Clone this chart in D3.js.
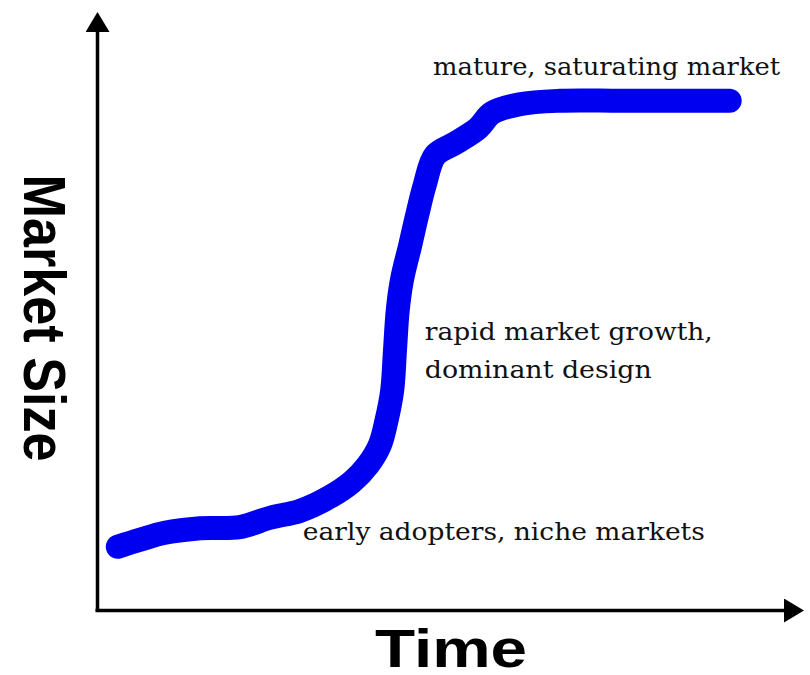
<!DOCTYPE html>
<html>
<head>
<meta charset="utf-8">
<script src="https://cdn.jsdelivr.net/npm/d3@7"></script>
<style>
  html, body { margin: 0; padding: 0; background: #fff; }
  svg { display: block; }
</style>
</head>
<body>
<svg id="chart" width="810" height="675"></svg>
<script>
// ---- data (time in arbitrary units 0..100, market size 0..100) ----
const time = [3.0, 6.2, 9.8, 14.9, 20.6, 25.0, 29.3, 33.6, 36.8, 39.1, 40.8, 41.8, 42.6, 43.0, 43.4, 44.0, 45.2, 46.2, 47.3, 48.8, 51.7, 55.0, 57.0, 61.0, 66.8, 75.5, 84.1, 91.3];
const marketSize = [10.9, 12.1, 13.3, 14.1, 14.3, 15.9, 17.1, 19.5, 22.1, 25.0, 28.4, 32.8, 37.9, 44.8, 51.7, 56.9, 62.9, 68.1, 73.3, 78.4, 80.5, 83.1, 85.7, 87.2, 87.8, 87.8, 87.8, 87.8];
const annotations = [
  { t: 48.5, v: 92.3, lines: ["mature, saturating market"], widths: [347] },
  { t: 47.3, v: 46.5, lines: ["rapid market growth,", "dominant design"], widths: [288, 227] },
  { t: 29.7, v: 12.0, lines: ["early adopters, niche markets"], widths: [402] }
];
const xLabel = "Time";
const yLabel = "Market Size";

// ---- layout ----
const svg = d3.select("#chart");
const x = d3.scaleLinear().domain([0, 100]).range([97, 790]);
const y = d3.scaleLinear().domain([0, 100]).range([610, 30]);

const defs = svg.append("defs");
defs.append("marker")
  .attr("id", "arrow")
  .attr("viewBox", "0 0 20 24")
  .attr("refX", 2).attr("refY", 12)
  .attr("markerWidth", 20).attr("markerHeight", 24)
  .attr("markerUnits", "userSpaceOnUse")
  .attr("orient", "auto")
  .append("path")
  .attr("d", "M0,0 L20,12 L0,24 Z")
  .attr("fill", "#000");

// axes (no ticks) via d3 axis generators
const xAxis = svg.append("g")
  .attr("transform", `translate(0,${y(0)})`)
  .call(d3.axisBottom(d3.scaleLinear().domain([0, 1]).range([x(0) - 1.5, 786])).tickValues([]).tickSizeOuter(0));
const yAxis = svg.append("g")
  .attr("transform", `translate(${x(0)},0)`)
  .call(d3.axisLeft(d3.scaleLinear().domain([0, 1]).range([y(0) + 1.5, 30])).tickValues([]).tickSizeOuter(0));
[xAxis, yAxis].forEach(g => g.select(".domain")
  .attr("stroke", "#000").attr("stroke-width", 3.5)
  .attr("marker-end", "url(#arrow)"));
xAxis.select(".domain").attr("d", `M${x(0) - 1.5},0.5H786`);
yAxis.select(".domain").attr("d", `M0.5,${y(0) + 1.5}V30`);

// S-curve
const data = time.map((t, i) => ({ t, v: marketSize[i] }));
const line = d3.line()
  .x(d => x(d.t))
  .y(d => y(d.v))
  .curve(d3.curveCatmullRom.alpha(0.5));
svg.append("path")
  .datum(data)
  .attr("d", line)
  .attr("fill", "none")
  .attr("stroke", "#0000f0")
  .attr("stroke-width", 24)
  .attr("stroke-linecap", "round")
  .attr("stroke-linejoin", "round");

// annotations
const serif = "'DejaVu Serif', 'Liberation Serif', serif";
annotations.forEach(a => {
  a.lines.forEach((l, i) => {
    svg.append("text")
      .attr("x", x(a.t))
      .attr("y", y(a.v) + i * 38)
      .attr("font-family", serif)
      .attr("font-size", 24)
      .attr("fill", "#111")
      .attr("textLength", a.widths[i])
      .attr("lengthAdjust", "spacingAndGlyphs")
      .text(l);
  });
});

// axis titles
svg.append("text")
  .attr("x", 451).attr("y", 667)
  .attr("text-anchor", "middle")
  .attr("font-family", "'Liberation Sans', Arial, sans-serif")
  .attr("font-weight", "bold")
  .attr("font-size", 53)
  .attr("textLength", 152)
  .attr("lengthAdjust", "spacingAndGlyphs")
  .text(xLabel);

svg.append("text")
  .attr("transform", "translate(24,318) rotate(90)")
  .attr("text-anchor", "middle")
  .attr("font-family", "'Liberation Sans', Arial, sans-serif")
  .attr("font-weight", "bold")
  .attr("font-size", 60)
  .attr("textLength", 287)
  .attr("lengthAdjust", "spacingAndGlyphs")
  .text(yLabel);
</script>
</body>
</html>
